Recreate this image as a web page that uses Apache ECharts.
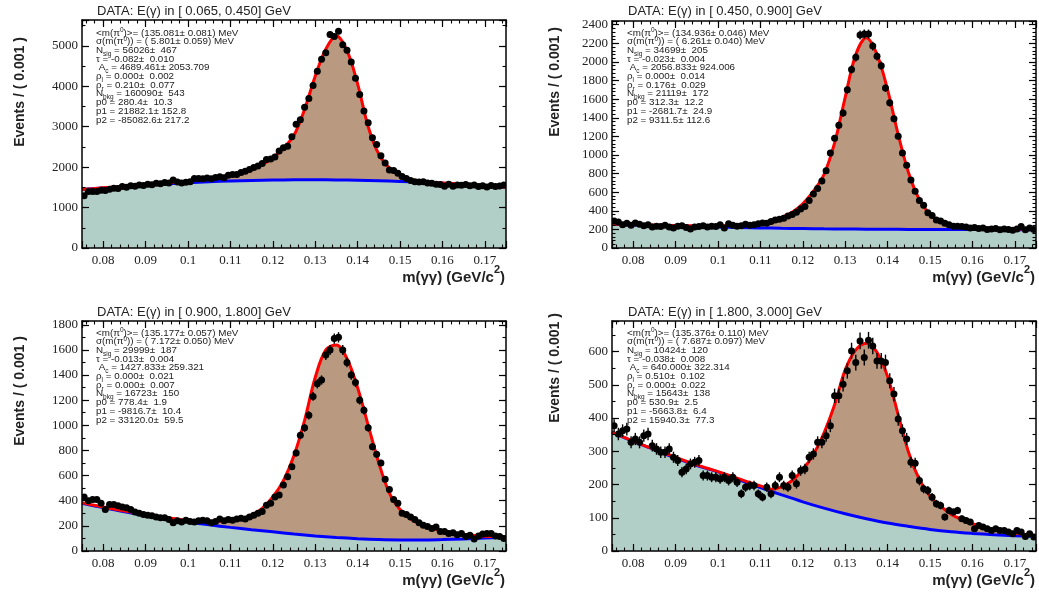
<!DOCTYPE html>
<html>
<head>
<meta charset="utf-8">
<script src="https://cdn.jsdelivr.net/npm/echarts/dist/echarts.min.js"></script>
<style>
html, body { margin: 0; padding: 0; background: #ffffff; }
#chart { width: 1039px; height: 595px; }
</style>
</head>
<body>
<div id="chart"></div>
<script>
// ---------------- DATA ----------------
// data histogram: bins of 0.001 GeV/c^2 starting at 0.075 (centres 0.0755, 0.0765, ...)
const binStart = 0.0755;
const binWidth = 0.001;

const p1Counts = [
  1290, 1400, 1395, 1400, 1430, 1420, 1455, 1480, 1470, 1520,
  1505, 1540, 1525, 1560, 1545, 1580, 1565, 1600, 1590, 1620,
  1605, 1680, 1630, 1610, 1625, 1640, 1720, 1720, 1710, 1730,
  1715, 1745, 1760, 1740, 1800, 1820, 1820, 1870, 1900, 1940,
  1990, 2030, 2090, 2190, 2200, 2250, 2400, 2480, 2520, 2750,
  3060, 3170, 3480, 3700, 4020, 4370, 4670, 4830, 5280, 5230,
  5360, 5030, 4890, 4600, 4200, 3800, 3390, 3100, 2730, 2560,
  2280, 2100, 1930, 1920, 1850, 1770, 1720, 1670, 1640, 1630,
  1640, 1610, 1600, 1580, 1570, 1530, 1580, 1530, 1560, 1550,
  1570, 1540, 1560, 1520, 1540, 1510, 1545, 1520, 1535, 1560
];
const p2Counts = [
  290, 280, 250, 265, 245, 270, 255, 240, 250, 225,
  235, 230, 245, 225, 215, 235, 240, 220, 205, 225,
  230, 240, 225, 235, 230, 250, 215, 260, 245, 235,
  240, 255, 245, 250, 260, 270, 265, 285, 300, 310,
  320, 345, 360, 385, 420, 445, 510, 580, 640, 720,
  830, 1020, 1180, 1320, 1450, 1700, 1920, 2050, 2290, 2300,
  2300, 2170, 2060, 1960, 1720, 1560, 1390, 1200, 1020, 890,
  730, 610, 510, 460, 380, 350, 300, 290, 265, 250,
  235, 235, 230, 225, 215, 220, 210, 215, 200, 205,
  210, 195, 205, 200, 190, 205, 230, 195, 215, 200
];
const p3Counts = [
  430, 400, 410, 410, 380, 330, 370, 370, 360, 350,
  345, 330, 310, 300, 290, 285, 280, 270, 265, 265,
  250, 225, 240, 230, 245, 235, 230, 240, 245, 240,
  225, 235, 255, 240, 250, 245, 255, 260, 255, 270,
  285, 300, 315, 365, 380, 430, 445, 525, 590, 670,
  780, 920, 980, 1080, 1230, 1330, 1360, 1560, 1600, 1690,
  1700, 1600, 1500, 1400, 1340, 1200, 1120, 980, 830, 770,
  700, 570, 490, 410, 380, 300, 290, 270, 250, 225,
  205, 195, 180, 190, 155, 155, 140, 145, 130, 140,
  115, 125, 95, 120, 135, 140, 140, 120, 115, 100
];
const p4Counts = [
  377, 352, 362, 367, 327, 337, 327, 347, 352, 317,
  307, 297, 297, 307, 282, 272, 237, 247, 262, 267,
  272, 227, 227, 222, 222, 217, 222, 212, 222, 207,
  172, 192, 197, 197, 172, 162, 192, 172, 197, 222,
  197, 192, 227, 202, 242, 247, 282, 292, 327, 327,
  347, 377, 467, 467, 502, 542, 602, 567, 632, 582,
  634, 617, 572, 572, 567, 512, 472, 397, 362, 337,
  267, 264, 212, 187, 182, 162, 142, 137, 102, 122,
  117, 122, 97, 92, 87, 67, 77, 72, 67, 62,
  67, 62, 62, 57, 52, 62, 57, 44, 52, 42
];

// total fit curve (red), read every 0.0025 from 0.075
const fitStart = 0.075;
const fitStep = 0.0025;
const p1Total = [1450, 1468, 1488, 1508, 1528, 1548, 1568, 1588, 1608, 1630,
  1655, 1685, 1718, 1762, 1805, 1862, 1940, 2060, 2230, 2470,
  2790, 3430, 4250, 4920, 5250, 4880, 4060, 3000, 2320, 1980,
  1795, 1695, 1645, 1625, 1610, 1594, 1578, 1561, 1543, 1524, 1505];
const p2Total = [258, 255, 252, 249, 246, 243, 241, 239, 238, 238,
  239, 241, 245, 252, 265, 288, 328, 385, 475, 610,
  790, 1130, 1620, 2080, 2260, 2080, 1700, 1220, 800, 520,
  360, 285, 250, 232, 222, 216, 212, 209, 206, 203, 200];
const p3Total = [385, 366, 350, 334, 318, 303, 290, 277, 265, 254,
  245, 240, 236, 236, 240, 255, 285, 340, 430, 560,
  760, 1040, 1380, 1600, 1640, 1530, 1300, 1000, 700, 460,
  330, 255, 210, 180, 160, 145, 132, 124, 118, 115, 113];
const p4Total = [358, 344, 331, 318, 306, 294, 282, 270, 259, 249,
  239, 228, 217, 206, 196, 186, 193, 212, 245, 290,
  355, 440, 545, 605, 625, 598, 525, 410, 295, 215,
  165, 135, 110, 95, 82, 72, 64, 58, 54, 50, 47];

// background curve (blue), read every 0.005 from 0.075
const bkgStart = 0.075;
const bkgStep = 0.005;
const p1Bkg = [1445, 1485, 1525, 1560, 1590, 1615, 1640, 1658, 1671, 1680, 1686,
  1687, 1684, 1676, 1664, 1648, 1628, 1603, 1574, 1541, 1504];
const p2Bkg = [255, 248, 242, 236, 230, 225, 220, 216, 212, 209, 206,
  204, 202, 201, 200, 199, 199, 198, 198, 197, 197];
const p3Bkg = [380, 345, 312, 283, 255, 230, 208, 188, 170, 153, 135,
  120, 108, 98, 91, 88, 88, 91, 96, 103, 111];
const p4Bkg = [358, 330, 305, 280, 257, 238, 214, 191, 169, 148, 129,
  112, 97, 84, 74, 65, 58, 53, 49, 46, 44];

// axis ranges / ticks
const xMin = 0.075, xMax = 0.175, xMajor = 0.01, xMinor = 0.002;
const yMaxes = [5640, 2440, 1830, 692];
const yMajors = [1000, 200, 200, 100];
const yMinors = [500, 40, 100, 50];

// texts
const panelTitles = [
  'DATA: E(γ) in [ 0.065, 0.450] GeV',
  'DATA: E(γ) in [ 0.450, 0.900] GeV',
  'DATA: E(γ) in [ 0.900, 1.800] GeV',
  'DATA: E(γ) in [ 1.800, 3.000] GeV'
];
const p1Stats = [
  '<m(π{sup|0})>= (135.081± 0.081) MeV',
  'σ(m(π{sup|0})) = ( 5.801± 0.059) MeV',
  'N{sub|sig} = 56026±  467',
  'τ = -0.082±  0.010',
  ' A{sub|c} = 4689.461± 2053.709',
  'ρ{sub|l} = 0.000±  0.002',
  'ρ{sub|r} = 0.210±  0.077',
  'N{sub|bkg} = 160090±  543',
  'p0 = 280.4±  10.3',
  'p1 = 21882.1± 152.8',
  'p2 = -85082.6± 217.2'
];
const p2Stats = [
  '<m(π{sup|0})>= (134.936± 0.046) MeV',
  'σ(m(π{sup|0})) = ( 6.261± 0.040) MeV',
  'N{sub|sig} = 34699±  205',
  'τ = -0.023±  0.004',
  ' A{sub|c} = 2056.833± 924.006',
  'ρ{sub|l} = 0.000±  0.014',
  'ρ{sub|r} = 0.176±  0.029',
  'N{sub|bkg} = 21119±  172',
  'p0 = 312.3±  12.2',
  'p1 = -2681.7±  24.9',
  'p2 = 9311.5± 112.6'
];
const p3Stats = [
  '<m(π{sup|0})>= (135.177± 0.057) MeV',
  'σ(m(π{sup|0})) = ( 7.172± 0.050) MeV',
  'N{sub|sig} = 29999±  187',
  'τ = -0.013±  0.004',
  ' A{sub|c} = 1427.833± 259.321',
  'ρ{sub|l} = 0.000±  0.021',
  'ρ{sub|r} = 0.000±  0.007',
  'N{sub|bkg} = 16723±  150',
  'p0 = 778.4±  1.9',
  'p1 = -9816.7±  10.4',
  'p2 = 33120.0±  59.5'
];
const p4Stats = [
  '<m(π{sup|0})>= (135.376± 0.110) MeV',
  'σ(m(π{sup|0})) = ( 7.687± 0.097) MeV',
  'N{sub|sig} = 10424±  120',
  'τ = -0.038±  0.008',
  ' A{sub|c} = 640.000± 322.314',
  'ρ{sub|l} = 0.510±  0.102',
  'ρ{sub|r} = 0.000±  0.022',
  'N{sub|bkg} = 15643±  138',
  'p0 = 530.9±  2.5',
  'p1 = -5663.8±  6.4',
  'p2 = 15940.3±  77.3'
];
const yTitle = 'Events / ( 0.001 )';
const xTitle = '{m|m(γγ) (GeV/c}{sup|2}{m|)}';

// ---------------- LAYOUT & STYLE ----------------
const counts = [p1Counts, p2Counts, p3Counts, p4Counts];
const totals = [p1Total, p2Total, p3Total, p4Total];
const bkgs = [p1Bkg, p2Bkg, p3Bkg, p4Bkg];
const stats = [p1Stats, p2Stats, p3Stats, p4Stats];

const layout = [
  { left: 82, top: 20, width: 424, height: 228, titleX: 97, titleY: 11, statX: 96, statY: 28.5, yTitleX: 20, yTitleY: 92, xTitleX: 505, xTitleY: 276 },
  { left: 612, top: 21, width: 424, height: 227, titleX: 628, titleY: 11, statX: 627, statY: 28.5, yTitleX: 555, yTitleY: 82, xTitleX: 1035, xTitleY: 276 },
  { left: 82, top: 321, width: 424, height: 230, titleX: 97, titleY: 312, statX: 96, statY: 328.5, yTitleX: 20, yTitleY: 391, xTitleX: 505, xTitleY: 579 },
  { left: 612, top: 321, width: 424, height: 230, titleX: 628, titleY: 312, statX: 627, statY: 328.5, yTitleX: 555, yTitleY: 368, xTitleX: 1035, xTitleY: 579 }
];

const SANS = '"Liberation Sans", Arial, Helvetica, sans-serif';
const SERIF = '"Liberation Serif", "Times New Roman", Times, serif';
const TAN = '#b99a80';
const TEAL = '#b1cfc7';
const RED = '#ff0000';
const BLUE = '#0000ff';

function fmtX(v) {
  const k = Math.round(v * 100);
  return Math.abs(v * 100 - k) < 1e-6 ? String(k / 100) : '';
}
function makeFmtY(major) {
  return function (v) {
    const k = Math.round(v / major);
    return Math.abs(v - k * major) < 1e-6 ? String(Math.round(v)) : '';
  };
}

function renderPoint(params, api) {
  const x = api.value(0), y = api.value(1);
  const e = Math.sqrt(y);
  const p = api.coord([x, y]);
  const hi = api.coord([x, y + e]);
  const lo = api.coord([x, y - e]);
  return {
    type: 'group',
    children: [
      { type: 'line', shape: { x1: p[0], y1: hi[1], x2: p[0], y2: lo[1] }, style: { stroke: '#000', lineWidth: 1.4 } },
      { type: 'circle', shape: { cx: p[0], cy: p[1], r: 3.5 }, style: { fill: '#000' } }
    ]
  };
}

const option = {
  animation: false,
  backgroundColor: '#ffffff',
  grid: [], xAxis: [], yAxis: [], series: [], graphic: []
};

for (let g = 0; g < 4; g++) {
  const L = layout[g];
  option.grid.push({ left: L.left, top: L.top, width: L.width, height: L.height, containLabel: false, outerBoundsMode: 'none', show: false });

  const lineOn = { show: true, onZero: false, lineStyle: { color: '#000', width: 1.5 } };
  const lineOff = { show: false, onZero: false };
  const majTick = { show: true, inside: true, length: 7, lineStyle: { color: '#000', width: 1.2 } };
  const minTick = { show: true, inside: true, length: 3.5, lineStyle: { color: '#000', width: 1.1 } };

  const xb = { gridIndex: g, type: 'value', min: xMin, max: xMax, z: 10, splitLine: { show: false } };
  option.xAxis.push(Object.assign({}, xb, { position: 'bottom', minInterval: xMajor, maxInterval: xMajor, axisLine: lineOn, axisTick: majTick,
    axisLabel: { show: true, margin: 6, color: '#222', fontFamily: SERIF, fontSize: 13, formatter: fmtX } }));
  option.xAxis.push(Object.assign({}, xb, { position: 'top', minInterval: xMajor, maxInterval: xMajor, axisLine: lineOn, axisTick: majTick, axisLabel: { show: false } }));
  option.xAxis.push(Object.assign({}, xb, { position: 'bottom', minInterval: xMinor, maxInterval: xMinor, axisLine: lineOff, axisTick: minTick, axisLabel: { show: false } }));
  option.xAxis.push(Object.assign({}, xb, { position: 'top', minInterval: xMinor, maxInterval: xMinor, axisLine: lineOff, axisTick: minTick, axisLabel: { show: false } }));

  const yb = { gridIndex: g, type: 'value', min: 0, max: yMaxes[g], z: 10, splitLine: { show: false } };
  option.yAxis.push(Object.assign({}, yb, { position: 'left', interval: yMajors[g], axisLine: lineOn, axisTick: majTick,
    axisLabel: { show: true, margin: 4, color: '#222', fontFamily: SERIF, fontSize: 13, formatter: makeFmtY(yMajors[g]) } }));
  option.yAxis.push(Object.assign({}, yb, { position: 'right', interval: yMajors[g], axisLine: lineOn, axisTick: majTick, axisLabel: { show: false } }));
  option.yAxis.push(Object.assign({}, yb, { position: 'left', interval: yMinors[g], axisLine: lineOff, axisTick: minTick, axisLabel: { show: false } }));
  option.yAxis.push(Object.assign({}, yb, { position: 'right', interval: yMinors[g], axisLine: lineOff, axisTick: minTick, axisLabel: { show: false } }));

  const xi = g * 4, yi = g * 4;
  const totalData = totals[g].map((v, i) => [fitStart + i * fitStep, v]);
  const bkgData = bkgs[g].map((v, i) => [bkgStart + i * bkgStep, v]);
  const pts = counts[g].map((v, i) => [binStart + i * binWidth, v]);

  option.series.push({ type: 'line', xAxisIndex: xi, yAxisIndex: yi, data: totalData, smooth: 0.35, symbol: 'none', showSymbol: false,
    lineStyle: { width: 0, opacity: 0 }, areaStyle: { color: TAN, opacity: 1, origin: 'start' }, z: 2, silent: true });
  option.series.push({ type: 'line', xAxisIndex: xi, yAxisIndex: yi, data: bkgData, smooth: 0.35, symbol: 'none', showSymbol: false,
    lineStyle: { color: BLUE, width: 3 }, areaStyle: { color: TEAL, opacity: 1, origin: 'start' }, z: 3, silent: true });
  option.series.push({ type: 'line', xAxisIndex: xi, yAxisIndex: yi, data: totalData, smooth: 0.35, symbol: 'none', showSymbol: false,
    lineStyle: { color: RED, width: 3 }, z: 4, silent: true });
  option.series.push({ type: 'custom', xAxisIndex: xi, yAxisIndex: yi, data: pts, renderItem: renderPoint, clip: true, z: 5, silent: true });

  // texts
  option.graphic.push({ type: 'text', x: L.titleX, y: L.titleY, silent: true, z: 20,
    style: { text: panelTitles[g], font: '13px ' + SANS, fill: '#222', align: 'left', verticalAlign: 'middle' } });
  option.graphic.push({ type: 'text', x: L.statX, y: L.statY, silent: true, z: 20,
    style: { text: stats[g].join('\n'), font: '9.8px ' + SANS, fill: '#222', align: 'left', verticalAlign: 'top', lineHeight: 8.7,
      rich: {
        sub: { font: '6.5px ' + SANS, fill: '#222', height: 1, lineHeight: 8.7, verticalAlign: 'bottom' },
        sup: { font: '6.5px ' + SANS, fill: '#222', height: 4, lineHeight: 8.7, verticalAlign: 'top' }
      } } });
  option.graphic.push({ type: 'text', x: L.yTitleX, y: L.yTitleY, rotation: Math.PI / 2, silent: true, z: 20,
    style: { text: yTitle, font: 'bold 14px ' + SANS, fill: '#222', align: 'center', verticalAlign: 'middle' } });
  option.graphic.push({ type: 'text', x: L.xTitleX, y: L.xTitleY, silent: true, z: 20,
    style: { text: xTitle, font: 'bold 15px ' + SANS, fill: '#222', align: 'right', verticalAlign: 'middle', lineHeight: 18,
      rich: {
        m: { font: 'bold 15px ' + SANS, fill: '#222', lineHeight: 18, verticalAlign: 'bottom' },
        sup: { font: 'bold 11px ' + SANS, fill: '#222', height: 6, lineHeight: 18, verticalAlign: 'top' }
      } } });
}

const chart = echarts.init(document.getElementById('chart'), null, { renderer: 'canvas' });
chart.setOption(option);
</script>
</body>
</html>
